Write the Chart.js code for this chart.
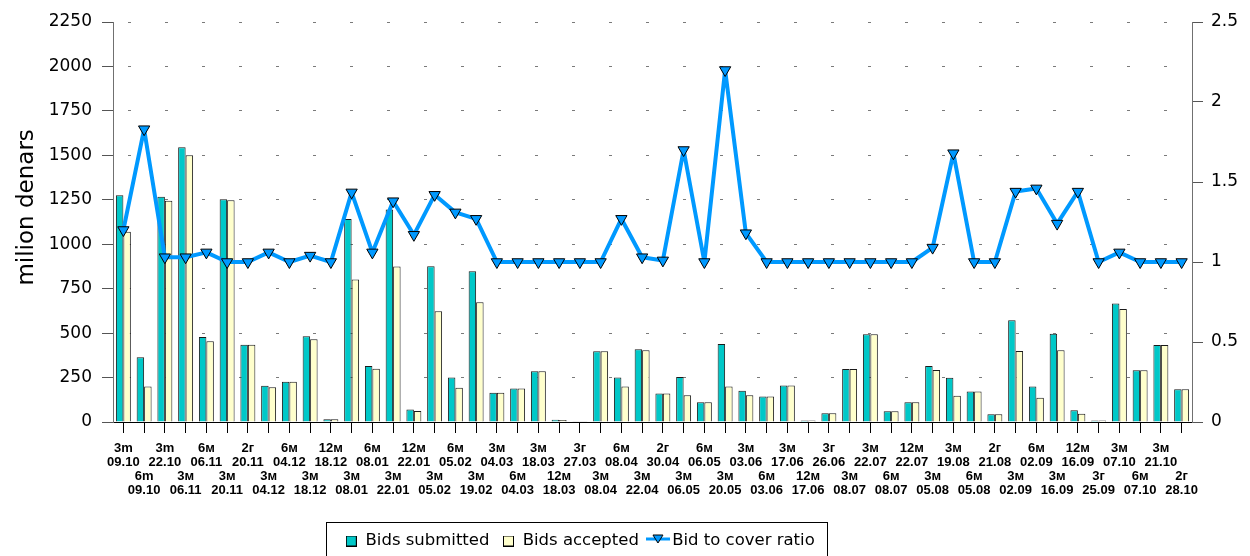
<!DOCTYPE html>
<html>
<head>
<meta charset="utf-8">
<script src="https://cdn.jsdelivr.net/npm/chart.js@4.4.1/dist/chart.umd.min.js"></script>
<style>
  html, body { margin: 0; padding: 0; background: #fff; }
</style>
</head>
<body>
<canvas id="chart" width="1250" height="556"></canvas>
<script>
// auction tenor / date for each category (labels alternate between two rows)
const tenors = ['3m','6m','3m','3м','6м','3м','2г','3м','6м','3м','12м','3м','6м','3м','12м','3м','6м','3м',
  '3м','6м','3м','12м','3г','3м','6м','3м','2г','3м','6м','3м','3м','6м','3м','12м','3г','3м',
  '3м','6м','12м','3м','3м','6м','2г','3м','6м','3м','12м','3г','3м','6м','3м','2г'];
const dates = ['09.10','09.10','22.10','06.11','06.11','20.11','20.11','04.12','04.12','18.12','18.12','08.01','08.01',
  '22.01','22.01','05.02','05.02','19.02','04.03','04.03','18.03','18.03','27.03','08.04','08.04','22.04','30.04',
  '06.05','06.05','20.05','03.06','03.06','17.06','17.06','26.06','08.07','22.07','08.07','22.07','05.08','19.08',
  '05.08','21.08','02.09','02.09','16.09','16.09','25.09','07.10','07.10','21.10','28.10'];

// milion denars
const bidsSubmitted = [1275, 364, 1267, 1545, 478, 1253, 435, 204, 227, 482, 15, 1142, 315, 1196, 71, 876, 251, 848,
  165, 189, 285, 13, 2, 398, 251, 409, 161, 253, 111, 439, 176, 143, 206, 9, 49, 298,
  493, 60, 111, 315, 249, 172, 43, 572, 199, 497, 66, 9, 666, 291, 433, 184];
const bidsAccepted = [1070, 199, 1245, 1500, 454, 1247, 435, 195, 227, 465, 15, 802, 300, 874, 62, 623, 193, 673,
  165, 189, 285, 11, 2, 398, 199, 403, 161, 150, 111, 199, 150, 143, 206, 9, 49, 298,
  493, 60, 111, 293, 148, 172, 43, 399, 137, 403, 47, 9, 636, 291, 433, 184];
// ratio, right axis
const bidToCover = [1.20, 1.83, 1.03, 1.03, 1.06, 1.00, 1.00, 1.06, 1.00, 1.04, 1.00, 1.435, 1.06, 1.38, 1.17, 1.42, 1.31, 1.27,
  1.00, 1.00, 1.00, 1.00, 1.00, 1.00, 1.27, 1.03, 1.01, 1.70, 1.00, 2.20, 1.18, 1.00, 1.00, 1.00, 1.00, 1.00,
  1.00, 1.00, 1.00, 1.09, 1.68, 1.00, 1.00, 1.44, 1.46, 1.24, 1.44, 1.00, 1.06, 1.00, 1.00, 1.00];

const TEAL = '#00C8C8';
const CREAM = '#FFFFCC';
const BLUE = '#0099FF';
const LEGEND_CX = 580, LEGEND_CY = 541, LEGEND_FONT = 16.5;

// top row for even categories, second row for odd ones
const labels = tenors.map((t, i) => i % 2 === 0 ? [t, dates[i]] : ['', '', t, dates[i]]);

function boxIcon(fill) {
  const c = document.createElement('canvas');
  c.width = 11; c.height = 11;
  const g = c.getContext('2d');
  g.fillStyle = fill;
  g.fillRect(0.5, 0.5, 10, 10);
  g.strokeStyle = '#000';
  g.lineWidth = 1;
  g.strokeRect(0.5, 0.5, 10, 10);
  return c;
}
function lineIcon() {
  const c = document.createElement('canvas');
  c.width = 24; c.height = 14;
  const g = c.getContext('2d');
  g.strokeStyle = BLUE;
  g.lineWidth = 3;
  g.beginPath(); g.moveTo(0, 5); g.lineTo(24, 5); g.stroke();
  g.beginPath(); g.moveTo(7, 1); g.lineTo(17, 1); g.lineTo(12, 9); g.closePath();
  g.fillStyle = BLUE; g.fill();
  g.strokeStyle = '#000'; g.lineWidth = 1; g.stroke();
  return c;
}
const legendIcons = [boxIcon(TEAL), boxIcon(CREAM), lineIcon()];

// move the legend under the plot and draw a frame round it
const legendFrame = {
  id: 'legendFrame',
  afterLayout(chart) {
    const lg = chart.legend;
    const dx = LEGEND_CX - (lg.left + lg.right) / 2;
    lg.left += dx; lg.right += dx;
    const pad = lg.options.labels.padding;
    const dy = LEGEND_CY - (lg.top + pad + LEGEND_FONT / 2);
    lg.top += dy; lg.bottom += dy;
  },
  afterDraw(chart) {
    const hb = chart.legend.legendHitBoxes;
    if (!hb || !hb.length) return;
    const first = hb[0], last = hb[hb.length - 1];
    const cy = first.top + first.height / 2;
    const x0 = Math.round(first.left - 19), x1 = Math.round(last.left + last.width + 12);
    const ctx = chart.ctx;
    ctx.save();
    ctx.strokeStyle = '#000';
    ctx.lineWidth = 1;
    ctx.strokeRect(x0 + 0.5, Math.round(cy - 19) + 0.5, x1 - x0, 80);
    ctx.restore();
  }
};

const plainNumber = v => String(v);

new Chart(document.getElementById('chart'), {
  type: 'bar',
  data: {
    labels: labels,
    datasets: [
      {
        label: 'Bids submitted',
        data: bidsSubmitted,
        backgroundColor: TEAL,
        borderColor: '#1a1a1a',
        borderWidth: 1,
        yAxisID: 'y',
        order: 1,
        categoryPercentage: 0.72,
        barPercentage: 1
      },
      {
        label: 'Bids accepted',
        data: bidsAccepted,
        backgroundColor: CREAM,
        borderColor: '#1a1a1a',
        borderWidth: 1,
        yAxisID: 'y',
        order: 1,
        categoryPercentage: 0.72,
        barPercentage: 1
      },
      {
        type: 'line',
        label: 'Bid to cover ratio',
        data: bidToCover,
        yAxisID: 'y2',
        order: 0,
        borderColor: BLUE,
        borderWidth: 4,
        borderJoinStyle: 'round',
        tension: 0,
        fill: false,
        pointStyle: 'triangle',
        pointRotation: 180,
        pointRadius: 6.5,
        pointBackgroundColor: BLUE,
        pointBorderColor: '#000',
        pointBorderWidth: 1
      }
    ]
  },
  options: {
    responsive: false,
    animation: false,
    devicePixelRatio: 1,
    layout: { padding: { top: 22, left: 0, right: 0, bottom: 0 } },
    plugins: {
      tooltip: { enabled: false },
      legend: {
        position: 'bottom',
        labels: {
          usePointStyle: true,
          boxWidth: 12,
          boxHeight: 12,
          padding: 13,
          color: '#000',
          font: { family: 'DejaVu Sans', size: LEGEND_FONT },
          sort: (a, b) => a.datasetIndex - b.datasetIndex,
          generateLabels(chart) {
            const items = Chart.defaults.plugins.legend.labels.generateLabels(chart);
            items.forEach(it => { it.pointStyle = legendIcons[it.datasetIndex]; it.rotation = 0; });
            return items;
          }
        }
      }
    },
    scales: {
      x: {
        offset: true,
        grid: { drawOnChartArea: false, offset: false, tickLength: 11, color: '#000', tickColor: '#000' },
        border: { color: '#000', width: 1 },
        ticks: {
          autoSkip: false,
          maxRotation: 0,
          minRotation: 0,
          padding: 8,
          color: '#000',
          font: { family: "'Liberation Sans Narrow', 'Arial Narrow', 'Liberation Sans', sans-serif", weight: 'bold', size: 13, lineHeight: '14px' }
        },
        afterFit(s) { s.height = 556 - 422 - s.chart.legend.height; }
      },
      y: {
        position: 'left',
        min: 0,
        max: 2250,
        title: {
          display: true,
          // leading spaces lift the title a little above the axis middle, as in the original
          text: '    milion denars',
          color: '#000',
          font: { family: 'DejaVu Sans', size: 23 },
          padding: { top: 13, bottom: 0 }
        },
        grid: {
          color: ctx => ctx.tick && ctx.tick.value === 0 ? 'rgba(0,0,0,0)' : '#7a7a7a',
          tickColor: '#555',
          tickLength: 11,
          lineWidth: 1
        },
        border: { color: '#707070', width: 1, dash: [3, 34], dashOffset: 23 },
        ticks: {
          stepSize: 250,
          padding: 10,
          color: '#000',
          font: { family: 'DejaVu Sans', size: 17 },
          callback: plainNumber
        },
        afterFit(s) { s.width = 113; }
      },
      y2: {
        position: 'right',
        min: 0,
        max: 2.5,
        grid: { drawOnChartArea: false, tickLength: 11, tickColor: '#555' },
        border: { color: '#707070', width: 1 },
        ticks: {
          stepSize: 0.5,
          padding: 8,
          color: '#000',
          font: { family: 'DejaVu Sans', size: 17 },
          callback: plainNumber
        },
        afterFit(s) { s.width = 58; }
      }
    }
  },
  plugins: [legendFrame]
});
</script>
</body>
</html>
